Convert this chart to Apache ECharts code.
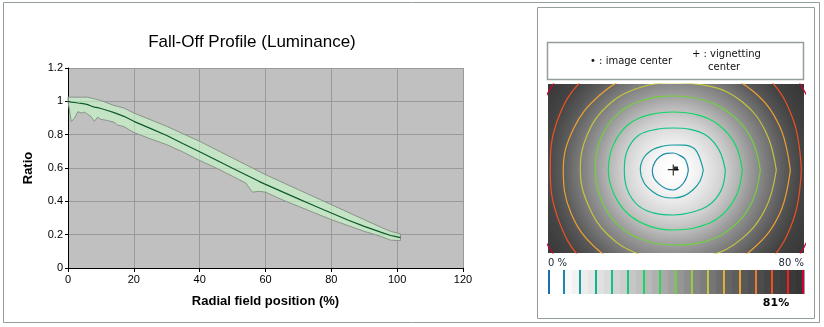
<!DOCTYPE html>
<html><head><meta charset="utf-8">
<script src="https://cdn.jsdelivr.net/npm/echarts@6/dist/echarts.min.js"></script>
<style>html,body{margin:0;padding:0;background:#fff}#c{width:824px;height:327px}</style>
</head><body><div id="c"></div>
<script>
// ---- Fall-off profile (left chart) ----
const radialPos  = [0,1,2,3,4,5,6,7,8,9,10,12,14,15,17,20,25,30,35,40,45,50,54,56,58,60,65,70,75,80,85,90,95,98,100,101];
const ratioUpper = [1.025,1.025,1.025,1.025,1.025,1.025,1.025,1.02,1.015,1.01,1.005,0.99,0.975,0.97,0.96,0.93,0.89,0.85,0.805,0.76,0.71,0.66,0.62,0.60,0.58,0.56,0.515,0.47,0.425,0.38,0.335,0.29,0.245,0.22,0.21,0.205];
const ratioMean  = [1.0,0.995,0.993,0.99,0.988,0.985,0.98,0.972,0.965,0.962,0.957,0.945,0.932,0.925,0.91,0.88,0.838,0.795,0.745,0.697,0.648,0.598,0.56,0.54,0.52,0.502,0.458,0.415,0.372,0.33,0.288,0.25,0.215,0.195,0.187,0.182];
const ratioLower = [1.0,0.878,0.9,0.938,0.93,0.935,0.922,0.908,0.88,0.905,0.892,0.885,0.875,0.858,0.848,0.813,0.775,0.74,0.695,0.645,0.6,0.55,0.51,0.455,0.46,0.455,0.41,0.37,0.33,0.29,0.255,0.22,0.19,0.167,0.165,0.165];

// ---- Colour scale (bottom right) ----
const barLevels = [0,5,10,15,20,25,30,35,40,45,50,55,60,65,70,75,80];
const barColors = ['#1a6fb0','#1a8aa8','#189c9c','#10b094','#10c284','#10cc74','#10d864','#30d850','#70d040','#98cc40','#c4c440','#dcb030','#f0a030','#f07830','#f05020','#f02020','#d00030'];
const shadeStep = 2.5;
const barShades = [255,255,248,242,236,230,224,218,212,205,198,191,184,176,168,160,149,141,133,125,117,109,101,94,88,82,76,70,66,62,58,54];
const maxFalloffLabel = '81%';

// ---- Vignetting contours (image pixel coords, radii in px at given angles) ----
const contourLevels = [5,10,20,30,40,50,60,70,80];
const contourAngles = [0,22.5,45,67.5,90,112.5,135,157.5,180,202.5,225,247.5,270,292.5,315,337.5];
const contourRadii = [
  [15,15,16,16,17,18,19,20,21,21,20,20,20,18,16,15],
  [30,29,30,27,25,26,29,32,33,32,30,29,28,28,28,29],
  [52,50,48,44,42,44,49,50,49,50,50,47,45,46,50,52],
  [69,67,64,60,58,60,64,65,65,64,63,61,60,62,66,68],
  [87,84,80,76,74,76,79,79,78,78,78,76,75,78,82,85],
  [103,100,97,91,87,89,92,93,93,92,92,91,90,93,97,100],
  [117,115,112,106,102,103,105,108,110,111,110,107,105,108,112,115],
  [128,130,132,128,122,125,128,126,123,125,128,126,122,127,132,130],
  [150,152,153,150,148,148,148,146,145,146,146,148,148,150,152,151]
];
const vignettingCenter = [125.3, 86];
const imageCenter = [128, 84.5];
const imageSize = [256, 169];

const FONT = 'Liberation Sans, Arial, sans-serif';
const FONT2 = 'DejaVu Sans, Verdana, sans-serif';
const g = v => 'rgb(' + v + ',' + v + ',' + v + ')';

const bandData = radialPos.map((x, i) => [x, ratioLower[i], ratioUpper[i]]);
const meanData = radialPos.map((x, i) => [x, ratioMean[i]]);

const contourSeries = contourLevels.map((lvl, k) => {
  const pts = contourAngles.map((a, i) => {
    const r = contourRadii[k][i], t = a * Math.PI / 180;
    return [vignettingCenter[0] + r * Math.cos(t), vignettingCenter[1] - r * Math.sin(t)];
  });
  pts.push(pts[0]);
  return {
    type: 'line', xAxisIndex: 1, yAxisIndex: 1, data: pts, smooth: 0.4,
    symbol: 'none', clip: true, silent: true, z: 3,
    lineStyle: { color: barColors[barLevels.indexOf(lvl)], width: 1.2 }
  };
});

const shadeData = barShades.map((v, i) => [i * shadeStep, (i + 1) * shadeStep, v]);
const lineData = barLevels.map((l, i) => [l, i]);

const chart = echarts.init(document.getElementById('c'));
chart.setOption({
  animation: false,
  title: {
    text: 'Fall-Off Profile (Luminance)', left: 247, top: 29, textAlign: 'center',
    textStyle: { fontFamily: FONT, fontSize: 17, fontWeight: 'normal', color: '#000' }
  },
  grid: [
    { left: 68, top: 68, width: 395, height: 200, show: true, backgroundColor: '#c0c0c0', borderWidth: 0 },
    { left: 548, top: 84, width: imageSize[0], height: imageSize[1], show: true, borderWidth: 0,
      backgroundColor: { type: 'radial', x: 548 + vignettingCenter[0], y: 84 + vignettingCenter[1], r: 155, global: true,
        colorStops: [
          { offset: 0, color: g(255) }, { offset: 0.06, color: g(253) }, { offset: 0.11, color: g(248) },
          { offset: 0.19, color: g(236) }, { offset: 0.31, color: g(212) }, { offset: 0.41, color: g(184) },
          { offset: 0.51, color: g(150) }, { offset: 0.62, color: g(118) }, { offset: 0.72, color: g(90) },
          { offset: 0.83, color: g(68) }, { offset: 0.97, color: g(56) }, { offset: 1, color: g(54) }
        ] } },
    { left: 548, top: 270, width: 256, height: 24, show: false }
  ],
  xAxis: [
    { gridIndex: 0, type: 'value', min: 0, max: 120, interval: 20,
      name: 'Radial field position (%)', nameLocation: 'middle', nameGap: 27,
      nameTextStyle: { fontFamily: FONT, fontSize: 13, fontWeight: 'bold', color: '#000' },
      axisLine: { lineStyle: { color: '#000', width: 1 } },
      axisTick: { show: true, length: 4, lineStyle: { color: '#000' } },
      axisLabel: { fontFamily: FONT, fontSize: 11, color: '#000', margin: 6 },
      splitLine: { show: true, lineStyle: { color: '#9a9a9a', width: 1 } } },
    { gridIndex: 1, type: 'value', min: 0, max: imageSize[0], show: false },
    { gridIndex: 2, type: 'value', min: 0, max: 80, interval: 80, position: 'top',
      axisLine: { show: false }, axisTick: { show: false }, splitLine: { show: false },
      axisLabel: { show: true, margin: 2, fontFamily: FONT2, fontSize: 10, color: '#1b2538',
        formatter: v => v + ' %', alignMinLabel: 'left', alignMaxLabel: 'right' } }
  ],
  yAxis: [
    { gridIndex: 0, type: 'value', min: 0, max: 1.2, interval: 0.2,
      name: 'Ratio', nameLocation: 'middle', nameGap: 33, nameRotate: 90,
      nameTextStyle: { fontFamily: FONT, fontSize: 13, fontWeight: 'bold', color: '#000' },
      axisLine: { show: true, lineStyle: { color: '#000', width: 1 } },
      axisTick: { show: true, length: 3, lineStyle: { color: '#000' } },
      axisLabel: { fontFamily: FONT, fontSize: 11, color: '#000', margin: 5 },
      splitLine: { show: true, lineStyle: { color: '#9a9a9a', width: 1 } } },
    { gridIndex: 1, type: 'value', min: 0, max: imageSize[1], inverse: true, show: false },
    { gridIndex: 2, type: 'value', min: 0, max: 1, show: false }
  ],
  graphic: [
    { type: 'rect', shape: { x: 3.5, y: 2.5, width: 816, height: 320 }, style: { fill: 'none', stroke: '#939e9b', lineWidth: 1 }, silent: true },
    { type: 'rect', shape: { x: 537.5, y: 7.5, width: 277, height: 311 }, style: { fill: 'none', stroke: '#939e9b', lineWidth: 1 }, silent: true },
    { type: 'rect', shape: { x: 547.5, y: 42.5, width: 256, height: 37 }, style: { fill: 'none', stroke: '#939e9b', lineWidth: 1.5 }, silent: true },
    { type: 'text', x: 590, y: 61, style: { text: '\u2022 : image center', font: '10px ' + FONT2, fill: '#111', textVerticalAlign: 'middle' }, silent: true },
    { type: 'text', x: 692, y: 54, style: { text: '+ : vignetting', font: '10px ' + FONT2, fill: '#111', textVerticalAlign: 'middle' }, silent: true },
    { type: 'text', x: 708, y: 67, style: { text: 'center', font: '10px ' + FONT2, fill: '#111', textVerticalAlign: 'middle' }, silent: true },
    { type: 'text', x: 776, y: 303, style: { text: maxFalloffLabel, font: 'bold 11px ' + FONT2, fill: '#000', textAlign: 'center', textVerticalAlign: 'middle' }, silent: true }
  ],
  series: [
    { type: 'custom', xAxisIndex: 0, yAxisIndex: 0, data: bandData, encode: { x: 0, y: [1, 2] }, z: 2, silent: true,
      renderItem: function (params, api) {
        if (params.dataIndex !== 0) return null;
        const pts = [];
        bandData.forEach(d => pts.push(api.coord([d[0], d[2]])));
        for (let i = bandData.length - 1; i >= 0; i--) pts.push(api.coord([bandData[i][0], bandData[i][1]]));
        return { type: 'polygon', shape: { points: pts },
          style: { fill: 'rgba(200,255,200,0.55)', stroke: '#8a948a', lineWidth: 1 } };
      } },
    { type: 'line', xAxisIndex: 0, yAxisIndex: 0, data: meanData, symbol: 'none', z: 3, silent: true,
      lineStyle: { color: '#0b5a2a', width: 1.2 } },
    ...contourSeries,
    { type: 'scatter', xAxisIndex: 1, yAxisIndex: 1, data: [imageCenter], symbol: 'rect', symbolSize: 4, z: 5, silent: true,
      itemStyle: { color: '#000' } },
    { type: 'scatter', xAxisIndex: 1, yAxisIndex: 1, data: [vignettingCenter], z: 6, silent: true,
      symbol: 'path://M0,4.5h11v1.2h-11z M4.9,0h1.2v11h-1.2z', symbolSize: 11, itemStyle: { color: '#000' } },
    { type: 'custom', xAxisIndex: 2, yAxisIndex: 2, data: shadeData, encode: { x: [0, 1], y: 2 }, silent: true, z: 2,
      renderItem: function (params, api) {
        const a = api.coord([api.value(0), 1]), b = api.coord([api.value(1), 0]);
        return { type: 'rect', shape: { x: a[0], y: a[1], width: b[0] - a[0] + 0.5, height: b[1] - a[1] },
          style: { fill: g(api.value(2)) } };
      } },
    { type: 'custom', xAxisIndex: 2, yAxisIndex: 2, data: lineData, encode: { x: 0 }, silent: true, z: 3,
      renderItem: function (params, api) {
        const a = api.coord([api.value(0), 1]), b = api.coord([api.value(0), 0]);
        const lo = api.coord([0, 0])[0], hi = api.coord([80, 0])[0];
        const x = Math.min(Math.max(a[0] - 1, lo), hi - 2);
        return { type: 'rect', shape: { x: x, y: a[1], width: 2, height: b[1] - a[1] },
          style: { fill: barColors[api.value(1)] } };
      } }
  ]
});
</script></body></html>
